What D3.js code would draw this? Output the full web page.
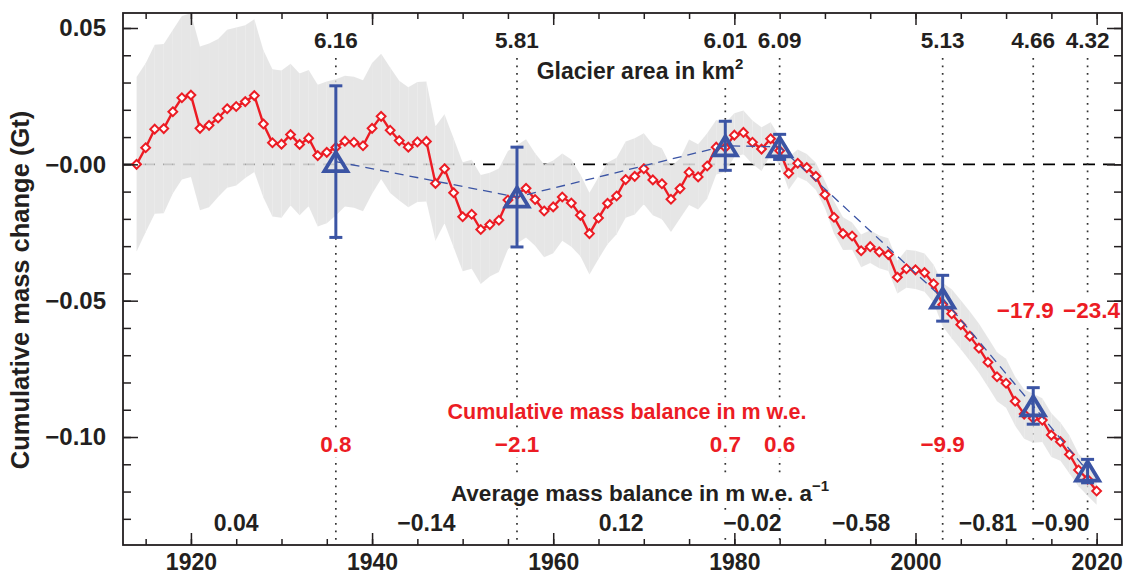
<!DOCTYPE html>
<html>
<head>
<meta charset="utf-8">
<script src="https://cdn.jsdelivr.net/npm/d3@7"></script>
<style>
body { margin: 0; background: #fff; }
text { font-family: "Liberation Sans", Arial, Helvetica, sans-serif; font-weight: bold; fill: #231f20; }
</style>
</head>
<body>
<script>
// glaciological series, one value per year starting 1914 (Gt)
const firstYear = 1914
const massChange = [
  0.0000, 0.0061, 0.0129, 0.0131, 0.0193, 0.0244, 0.0254, 0.0132, 0.0143, 0.0170,   // 1914-1923
  0.0204, 0.0212, 0.0230, 0.0252, 0.0148, 0.0079, 0.0074, 0.0109, 0.0073, 0.0096,   // 1924-1933
  0.0032, 0.0044, 0.0062, 0.0085, 0.0081, 0.0068, 0.0132, 0.0176, 0.0125, 0.0087,   // 1934-1943
  0.0063, 0.0082, 0.0084, -0.0070, -0.0016, -0.0104, -0.0192, -0.0183, -0.0239, -0.0221, // 1944-1953
  -0.0205, -0.0131, -0.0110, -0.0088, -0.0129, -0.0171, -0.0156, -0.0120, -0.0142, -0.0187, // 1954-1963
  -0.0254, -0.0197, -0.0143, -0.0116, -0.0056, -0.0044, -0.0016, -0.0057, -0.0071, -0.0128, // 1964-1973
  -0.0089, -0.0029, -0.0046, -0.0006, 0.0063, 0.0062, 0.0107, 0.0117, 0.0081, 0.0056,   // 1974-1983
  0.0094, 0.0050, -0.0033, 0.0004, -0.0012, -0.0044, -0.0111, -0.0194, -0.0254, -0.0263, // 1984-1993
  -0.0317, -0.0302, -0.0321, -0.0331, -0.0414, -0.0383, -0.0387, -0.0397, -0.0438, -0.0515, // 1994-2003
  -0.0548, -0.0588, -0.0630, -0.0674, -0.0726, -0.0779, -0.0803, -0.0869, -0.0916, -0.0931, // 2004-2013
  -0.0938, -0.0993, -0.1017, -0.1064, -0.1121, -0.1155, -0.1198                          // 2014-2020
]
const massError = [
  0.032, 0.031, 0.031, 0.031, 0.030, 0.030, 0.030, 0.030, 0.030, 0.029,
  0.029, 0.029, 0.028, 0.028, 0.027, 0.027, 0.027, 0.026, 0.026, 0.025,
  0.026, 0.026, 0.025, 0.024, 0.024, 0.024, 0.024, 0.023, 0.023, 0.022,
  0.022, 0.022, 0.022, 0.021, 0.020, 0.020, 0.020, 0.020, 0.020, 0.019,
  0.019, 0.018, 0.018, 0.018, 0.017, 0.017, 0.017, 0.016, 0.016, 0.015,
  0.015, 0.015, 0.015, 0.014, 0.014, 0.014, 0.013, 0.013, 0.013, 0.012,
  0.011, 0.012, 0.012, 0.012, 0.010, 0.009, 0.008, 0.008, 0.008, 0.008,
  0.006, 0.005, 0.006, 0.005, 0.005, 0.005, 0.005, 0.006, 0.006, 0.005,
  0.006, 0.006, 0.006, 0.006, 0.006, 0.007, 0.007, 0.007, 0.007, 0.008,
  0.009, 0.009, 0.009, 0.009, 0.009, 0.009, 0.009, 0.009, 0.009, 0.009,
  0.008, 0.008, 0.007, 0.007, 0.006, 0.006, 0.005
]

// geodetic surveys
const geoYears = [1936, 1956, 1979, 1985, 2003, 2013, 2019]
const geoMass = [0.0010, -0.0120, 0.0068, 0.0064, -0.0491, -0.0886, -0.1125]
const geoError = [0.0278, 0.0183, 0.0090, 0.0046, 0.0084, 0.0067, 0.0043]

const areaLabels = ['6.16', '5.81', '6.01', '6.09', '5.13', '4.66', '4.32']
const cumLabels = ['0.8', '\u22122.1', '0.7', '0.6', '\u22129.9', '\u221217.9', '\u221223.4']
const avgFrom = [1914, 1936, 1956, 1979, 1985, 2003, 2013]
const avgTo = [1936, 1956, 1979, 1985, 2003, 2013, 2019]
const avgLabels = ['0.04', '\u22120.14', '0.12', '\u22120.02', '\u22120.58', '\u22120.81', '\u22120.90']

const xTicks = [1920, 1940, 1960, 1980, 2000, 2020]
const yTicks = [0.05, 0, -0.05, -0.10]
const yTickLabels = ['0.05', '\u22120.00', '\u22120.05', '\u22120.10']

const years = massChange.map((d, i) => firstYear + i)

const width = 1124
const height = 576
const mLeft = 123, mRight = 1122, mTop = 13, mBottom = 545
const red = '#ec1c24'
const blue = '#3b54a4'

let svg = d3.select('body')
    .append('svg')
    .attr('width', width)
    .attr('height', height)

let x = d3.scaleLinear().domain([1912.5, 2022.8]).range([mLeft, mRight])
let y = d3.scaleLinear().domain([-0.1396, 0.0555]).range([mBottom, mTop])

svg.append('clipPath').attr('id', 'plot')
    .append('rect').attr('x', mLeft).attr('y', mTop).attr('width', mRight - mLeft).attr('height', mBottom - mTop)

let plot = svg.append('g').attr('clip-path', 'url(#plot)')

// zero line
plot.append('line')
    .attr('x1', mLeft).attr('x2', mRight)
    .attr('y1', y(0)).attr('y2', y(0))
    .attr('stroke', '#000').attr('stroke-width', 1.6)
    .attr('stroke-dasharray', '12,8')

// dotted survey lines
plot.selectAll('.survey')
    .data(geoYears)
    .enter().append('line')
    .attr('x1', d => x(d)).attr('x2', d => x(d))
    .attr('y1', 58).attr('y2', mBottom)
    .attr('stroke', '#333').attr('stroke-width', 1.7)
    .attr('stroke-dasharray', '1.7,5.8')

let knock = svg.append('g')   // white boxes behind the labels
let band = plot.append('g')

// uncertainty band, drawn year by year
let bandArea = d3.area()
    .x(d => x(d.year))
    .y0(d => y(d.v - d.e))
    .y1(d => y(d.v + d.e))

for (let i = 0; i < years.length - 1; i++) {
    let seg = [
        {year: years[i], v: massChange[i], e: massError[i]},
        {year: years[i + 1], v: massChange[i + 1], e: massError[i + 1]}
    ]
    band.append('path')
        .attr('d', bandArea(seg))
        .attr('fill', '#e2e2e2')
        .attr('fill-opacity', 0.88)
}

// red glaciological line
let line = d3.line().x((d, i) => x(years[i])).y(d => y(d))
plot.append('path')
    .attr('d', line(massChange))
    .attr('fill', 'none')
    .attr('stroke', red)
    .attr('stroke-width', 2.4)

plot.selectAll('.diamond')
    .data(massChange)
    .enter().append('path')
    .attr('class', 'diamond')
    .attr('d', (d, i) => {
        let cx = x(years[i]), cy = y(d), r = 4.4
        return 'M' + cx + ',' + (cy - r) + 'L' + (cx + r) + ',' + cy + 'L' + cx + ',' + (cy + r) + 'L' + (cx - r) + ',' + cy + 'Z'
    })
    .attr('fill', '#fff')
    .attr('stroke', red)
    .attr('stroke-width', 2)

// blue geodetic
plot.append('path')
    .attr('d', d3.line().x((d, i) => x(geoYears[i])).y(d => y(d))(geoMass))
    .attr('fill', 'none')
    .attr('stroke', blue)
    .attr('stroke-width', 1.3)
    .attr('stroke-dasharray', '9,6')

let geo = plot.selectAll('.geo')
    .data(geoMass)
    .enter().append('g')

geo.append('line')
    .attr('x1', (d, i) => x(geoYears[i])).attr('x2', (d, i) => x(geoYears[i]))
    .attr('y1', (d, i) => y(d + geoError[i])).attr('y2', (d, i) => y(d - geoError[i]))
    .attr('stroke', blue).attr('stroke-width', 3)
geo.append('line')
    .attr('x1', (d, i) => x(geoYears[i]) - 6.5).attr('x2', (d, i) => x(geoYears[i]) + 6.5)
    .attr('y1', (d, i) => y(d + geoError[i])).attr('y2', (d, i) => y(d + geoError[i]))
    .attr('stroke', blue).attr('stroke-width', 3)
geo.append('line')
    .attr('x1', (d, i) => x(geoYears[i]) - 6.5).attr('x2', (d, i) => x(geoYears[i]) + 6.5)
    .attr('y1', (d, i) => y(d - geoError[i])).attr('y2', (d, i) => y(d - geoError[i]))
    .attr('stroke', blue).attr('stroke-width', 3)
geo.append('path')
    .attr('d', (d, i) => {
        let cx = x(geoYears[i]), cy = y(d), w = 11.5, h = 9.5
        return 'M' + cx + ',' + (cy - h) + 'L' + (cx + w) + ',' + (cy + h) + 'L' + (cx - w) + ',' + (cy + h) + 'Z'
    })
    .attr('fill', 'none')
    .attr('stroke', blue)
    .attr('stroke-width', 3.8)
    .attr('stroke-linejoin', 'miter')

// labels
let labels = svg.append('g')

function label(tx, ty, str, color, size) {
    let t = labels.append('text')
        .attr('x', tx).attr('y', ty)
        .attr('text-anchor', 'middle')
        .style('font-size', size + 'px')
        .style('fill', color)
        .text(str)
    return t
}

geoYears.forEach((yr, i) => {
    label(x(yr), 48, areaLabels[i], '#231f20', 22.5)
    let ly = i >= 5 ? 318 : 452
    let dx = i == 5 ? -8 : (i == 6 ? 4 : 0)
    label(x(yr) + dx, ly, cumLabels[i], red, 22.5)
})

let ga = label(640, 79, 'Glacier area in km', '#231f20', 23)
ga.append('tspan').attr('dy', -10).style('font-size', '15px').text('2')

label(627, 419, 'Cumulative mass balance in m w.e.', red, 21.5)

let am = label(640, 501, 'Average mass balance in m w.e. a', '#231f20', 22.5)
am.append('tspan').attr('dy', -10).style('font-size', '15px').text('\u22121')

avgLabels.forEach((s, i) => {
    label(x((avgFrom[i] + avgTo[i]) / 2), 531, s, '#231f20', 23)
})

// white boxes behind every label so the dotted lines break there
labels.selectAll('text').each(function() {
    let b = this.getBBox()
    knock.append('rect')
        .attr('x', b.x - 3).attr('y', b.y)
        .attr('width', b.width + 6).attr('height', b.height)
        .attr('fill', '#fff')
})

// axes, ticks pointing inward
let minorX = d3.range(1915, 2023, 5)
let minorY = d3.range(-0.13, 0.056, 0.01)

svg.append('g').attr('transform', 'translate(0,' + mBottom + ')')
    .call(d3.axisBottom(x).tickValues(minorX).tickSize(-6).tickFormat(''))
let xAxis = svg.append('g').attr('transform', 'translate(0,' + mBottom + ')')
    .call(d3.axisBottom(x).tickValues(xTicks).tickSize(-12).tickPadding(9).tickFormat(d3.format('d')))
svg.append('g').attr('transform', 'translate(0,' + mTop + ')')
    .call(d3.axisTop(x).tickValues(minorX).tickSize(-6).tickFormat(''))
svg.append('g').attr('transform', 'translate(0,' + mTop + ')')
    .call(d3.axisTop(x).tickValues(xTicks).tickSize(-12).tickFormat(''))

svg.append('g').attr('transform', 'translate(' + mLeft + ',0)')
    .call(d3.axisLeft(y).tickValues(minorY).tickSize(-8).tickFormat(''))
let yAxis = svg.append('g').attr('transform', 'translate(' + mLeft + ',0)')
    .call(d3.axisLeft(y).tickValues(yTicks).tickSize(-15).tickPadding(17).tickFormat((d, i) => yTickLabels[i]))
svg.append('g').attr('transform', 'translate(' + mRight + ',0)')
    .call(d3.axisRight(y).tickValues(minorY).tickSize(-8).tickFormat(''))
svg.append('g').attr('transform', 'translate(' + mRight + ',0)')
    .call(d3.axisRight(y).tickValues(yTicks).tickSize(-15).tickFormat(''))

svg.selectAll('.domain').remove()
svg.selectAll('.tick line').attr('stroke', '#231f20').attr('stroke-width', 1.5)
svg.selectAll('.tick text')
    .style('font-family', '"Liberation Sans", Arial, sans-serif')
    .style('font-weight', 'bold')
    .attr('fill', '#231f20')
xAxis.selectAll('.tick text').style('font-size', '23px')
yAxis.selectAll('.tick text').style('font-size', '24px')

svg.append('rect')
    .attr('x', mLeft).attr('y', mTop)
    .attr('width', mRight - mLeft).attr('height', mBottom - mTop)
    .attr('fill', 'none')
    .attr('stroke', '#231f20')
    .attr('stroke-width', 1.8)

svg.append('text')
    .attr('transform', 'translate(29,' + 290 + ') rotate(-90)')
    .attr('text-anchor', 'middle')
    .style('font-size', '25.5px')
    .text('Cumulative mass change (Gt)')
</script>
</body>
</html>
